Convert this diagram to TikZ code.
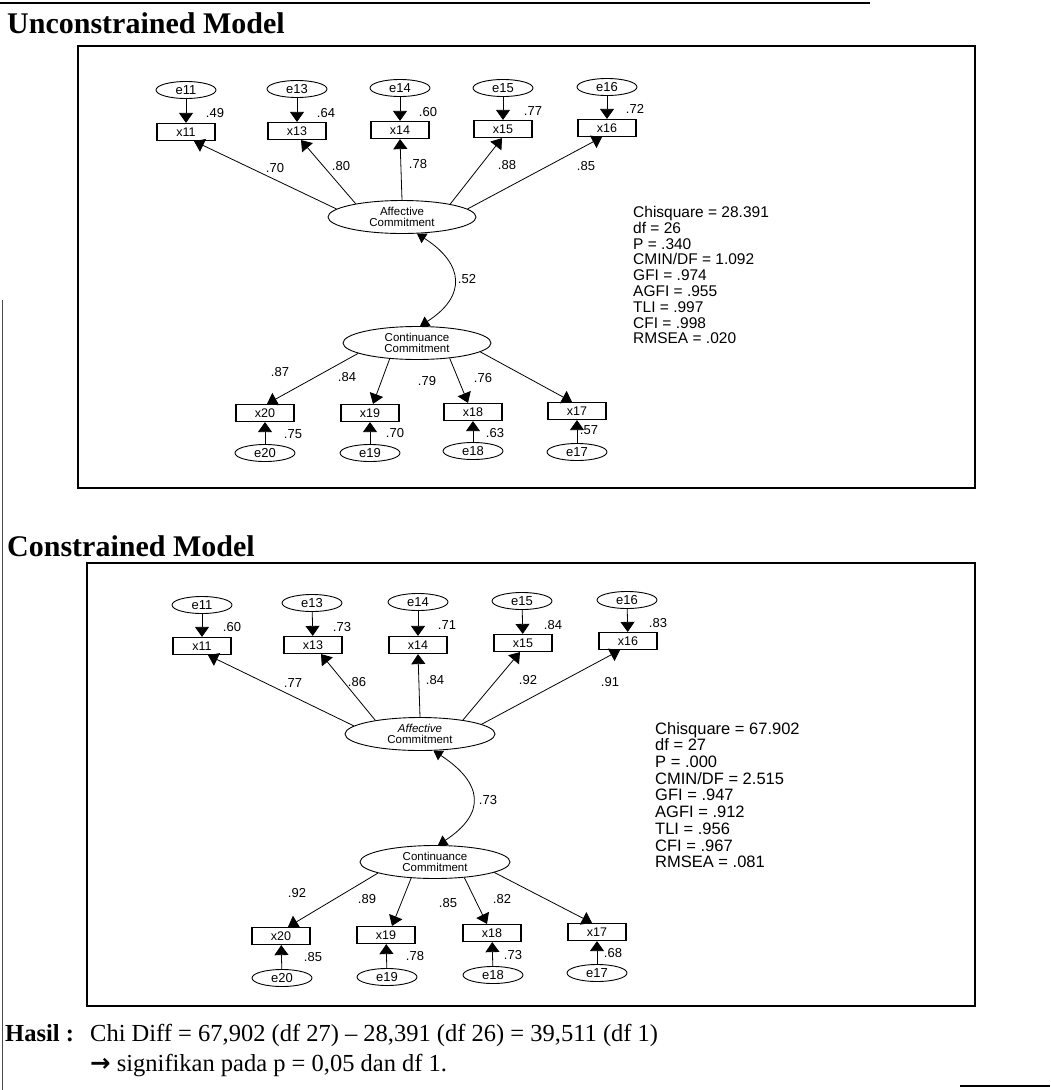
\documentclass[tikz,border=0pt]{standalone}
\usepackage{fontspec}
\setmainfont{Liberation Serif}
\setsansfont{Liberation Sans}
\newfontfamily\arrowfont{DejaVu Sans}
\usetikzlibrary{arrows.meta,shapes.geometric}

\tikzset{
  obs/.style={draw,line width=1.2pt,minimum width=58pt,minimum height=17pt,inner sep=0pt,font=\sffamily\fontsize{12.5}{12.5}\selectfont},
  err/.style={draw,ellipse,line width=0.9pt,minimum width=60pt,minimum height=17pt,inner sep=0pt,font=\sffamily\fontsize{13}{13}\selectfont},
  lat/.style={draw,ellipse,line width=0.9pt,minimum width=148pt,minimum height=33pt,inner sep=0pt,align=center,font=\sffamily\fontsize{11.5}{11}\selectfont},
  coef/.style={inner sep=0pt,font=\sffamily\fontsize{13}{13}\selectfont},
  stats/.style={anchor=north west,align=left,inner sep=0pt,font=\sffamily\fontsize{15.5}{15.8}\selectfont},
  load/.style={line width=0.8pt,-{Triangle[length=10pt,width=14pt]}},
  cov/.style={line width=0.8pt,{Triangle[length=9pt,width=11pt]}-{Triangle[length=9pt,width=11pt]}},
  heading/.style={anchor=base west,inner sep=0pt,font=\bfseries\fontsize{30}{30}\selectfont},
  result/.style={anchor=base west,inner sep=0pt,font=\fontsize{24.5}{24.5}\selectfont},
  panel/.style={line width=1.2pt}
}

\begin{document}
\begin{tikzpicture}[x=1pt,y=-1pt]
\useasboundingbox (0,0) rectangle (1050,1090);
\draw[line width=2.5pt] (0,3) -- (870,3);
\draw[line width=0.6pt,black!70] (2,300) -- (2,1090);
\draw[line width=2.5pt] (960,1086) -- (1050,1086);

\node[heading] (tu) at (7,33) {Unconstrained Model};
\draw[panel] (78,46) rectangle (975,488);

\node[err] (ue11) at (186,90) {e11};
\node[err] (ue13) at (297,89) {e13};
\node[err] (ue14) at (400,88) {e14};
\node[err] (ue15) at (503,88) {e15};
\node[err] (ue16) at (607,87) {e16};
\node[obs] (ux11) at (186,132) {x11};
\node[obs] (ux13) at (297,131) {x13};
\node[obs] (ux14) at (400,130) {x14};
\node[obs] (ux15) at (503,129) {x15};
\node[obs] (ux16) at (607,128) {x16};
\node[lat] (uaff) at (402,217) {Affective\\Commitment};
\node[lat] (ucon) at (417,343) {Continuance\\Commitment};
\node[obs] (ux20) at (265,413) {x20};
\node[obs] (ux19) at (370,413) {x19};
\node[obs] (ux18) at (473,412) {x18};
\node[obs] (ux17) at (577,411) {x17};
\node[err] (ue20) at (265,453) {e20};
\node[err] (ue19) at (370,453) {e19};
\node[err] (ue18) at (473,451) {e18};
\node[err] (ue17) at (577,452) {e17};

\draw[load] (ue11) -- (ux11);
\draw[load] (ue13) -- (ux13);
\draw[load] (ue14) -- (ux14);
\draw[load] (ue15) -- (ux15);
\draw[load] (ue16) -- (ux16);
\draw[load] (uaff.173) -- ([xshift=8pt]ux11.south);
\draw[load] (uaff.164) -- ([xshift=4pt]ux13.south);
\draw[load] (uaff.90) -- (ux14.south);
\draw[load] (uaff.15) -- ([xshift=-1pt]ux15.south);
\draw[load] (uaff.7) -- ([xshift=-5pt]ux16.south);
\draw[cov] (uaff.-48) .. controls +(47,30) and +(47,-30) .. (ucon.80);
\draw[load] (ucon.190) -- ([xshift=2pt]ux20.north);
\draw[load] (ucon.210) -- ([xshift=3pt]ux19.north);
\draw[load] (ucon.-25) -- ([xshift=-5pt]ux18.north);
\draw[load] (ucon.-8) -- ([xshift=-5pt]ux17.north);
\draw[load] (ue20) -- (ux20);
\draw[load] (ue19) -- (ux19);
\draw[load] (ue18) -- (ux18);
\draw[load] (ue17) -- (ux17);

\node[coef] (ur11) at (215,113) {.49};
\node[coef] (ur13) at (326,113) {.64};
\node[coef] (ur14) at (428,112) {.60};
\node[coef] (ur15) at (533,111) {.77};
\node[coef] (ur16) at (635,109) {.72};
\node[coef] (ul11) at (275,168) {.70};
\node[coef] (ul13) at (341,166) {.80};
\node[coef] (ul14) at (418,164) {.78};
\node[coef] (ul15) at (507,165) {.88};
\node[coef] (ul16) at (586,166) {.85};
\node[coef] (uc) at (467,279) {.52};
\node[coef] (ul20) at (280,372) {.87};
\node[coef] (ul19) at (347,377) {.84};
\node[coef] (ul18) at (427,381) {.79};
\node[coef] (ul17) at (483,378) {.76};
\node[coef] (ur20) at (293,434) {.75};
\node[coef] (ur19) at (395,433) {.70};
\node[coef] (ur18) at (495,433) {.63};
\node[coef] (ur17) at (589,430) {.57};

\node[stats] (us) at (633,206) {Chisquare = 28.391\\df = 26\\P = .340\\CMIN/DF = 1.092\\GFI = .974\\AGFI = .955\\TLI = .997\\CFI = .998\\RMSEA = .020};

\node[heading] (tc) at (7,556) {Constrained Model};
\draw[panel] (87,563) rectangle (975,1006);

\node[err] (ce11) at (202,605) {e11};
\node[err] (ce13) at (312,603) {e13};
\node[err] (ce14) at (418,602) {e14};
\node[err] (ce15) at (522,601) {e15};
\node[err] (ce16) at (627,600) {e16};
\node[obs] (cx11) at (202,646) {x11};
\node[obs] (cx13) at (313,645) {x13};
\node[obs] (cx14) at (418,645) {x14};
\node[obs] (cx15) at (523,643) {x15};
\node[obs] (cx16) at (628,641) {x16};
\node[lat,minimum width=150pt] (caff) at (420,734) {\textit{Affective}\\Commitment};
\node[lat,minimum width=150pt] (ccon) at (435,862) {Continuance\\Commitment};
\node[obs] (cx20) at (281,936) {x20};
\node[obs] (cx19) at (386,935) {x19};
\node[obs] (cx18) at (492,933) {x18};
\node[obs] (cx17) at (597,932) {x17};
\node[err] (ce20) at (282,978) {e20};
\node[err] (ce19) at (387,977) {e19};
\node[err] (ce18) at (493,975) {e18};
\node[err] (ce17) at (597,973) {e17};

\draw[load] (ce11) -- (cx11);
\draw[load] (ce13) -- (cx13);
\draw[load] (ce14) -- (cx14);
\draw[load] (ce15) -- (cx15);
\draw[load] (ce16) -- (cx16);
\draw[load] (caff.173) -- ([xshift=6pt]cx11.south);
\draw[load] (caff.163) -- ([xshift=8pt]cx13.south);
\draw[load] (caff.90) -- (cx14.south);
\draw[load] (caff.18) -- ([xshift=-3pt]cx15.south);
\draw[load] (caff.9) -- ([xshift=-8pt]cx16.south);
\draw[cov] (caff.-51) .. controls +(49,32) and +(49,-32) .. (ccon.80);
\draw[load] (ccon.191) -- ([xshift=7pt]cx20.north);
\draw[load] (ccon.214) -- ([xshift=6pt]cx19.north);
\draw[load] (ccon.-28) -- ([xshift=-5pt]cx18.north);
\draw[load] (ccon.-10) -- ([xshift=-5pt]cx17.north);
\draw[load] (ce20) -- (cx20);
\draw[load] (ce19) -- (cx19);
\draw[load] (ce18) -- (cx18);
\draw[load] (ce17) -- (cx17);

\node[coef] (cr11) at (232,627) {.60};
\node[coef] (cr13) at (342,627) {.73};
\node[coef] (cr14) at (447,625) {.71};
\node[coef] (cr15) at (553,625) {.84};
\node[coef] (cr16) at (658,623) {.83};
\node[coef] (cl11) at (293,683) {.77};
\node[coef] (cl13) at (357,682) {.86};
\node[coef] (cl14) at (435,680) {.84};
\node[coef] (cl15) at (528,680) {.92};
\node[coef] (cl16) at (610,682) {.91};
\node[coef] (cc) at (488,800) {.73};
\node[coef] (cl20) at (297,893) {.92};
\node[coef] (cl19) at (367,899) {.89};
\node[coef] (cl18) at (448,903) {.85};
\node[coef] (cl17) at (502,899) {.82};
\node[coef] (cr20) at (313,957) {.85};
\node[coef] (cr19) at (415,956) {.78};
\node[coef] (cr18) at (513,955) {.73};
\node[coef] (cr17) at (613,953) {.68};

\node[stats,font=\sffamily\fontsize{16.5}{16.7}\selectfont] (cs) at (655,722) {Chisquare = 67.902\\df = 27\\P = .000\\CMIN/DF = 2.515\\GFI = .947\\AGFI = .912\\TLI = .956\\CFI = .967\\RMSEA = .081};

\node[result,font=\bfseries\fontsize{24.5}{24.5}\selectfont] (hasil) at (5,1041) {Hasil :};
\node[result] (diff) at (90,1041) {Chi Diff = 67,902 (df 27) – 28,391 (df 26) = 39,511 (df 1)};
\node[result] (sig) at (90,1071) {{\arrowfont\bfseries →} signifikan pada p = 0,05 dan df 1.};
\end{tikzpicture}
\end{document}
